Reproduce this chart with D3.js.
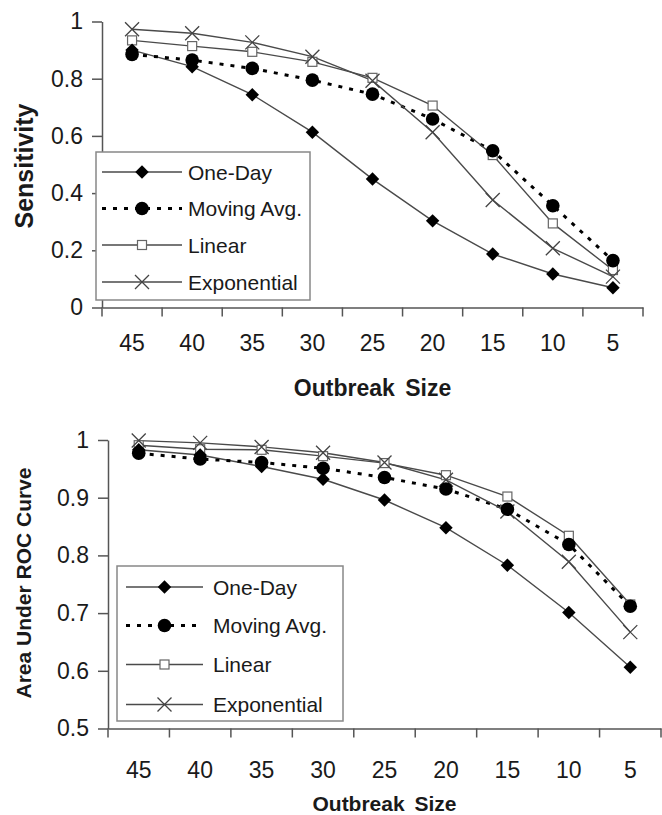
<!DOCTYPE html>
<html>
<head>
<meta charset="utf-8">
<script src="https://cdn.jsdelivr.net/npm/d3@7"></script>
<style>
  body { margin: 0; background: #fff; }
  svg { display: block; font-family: "Liberation Sans", Arial, sans-serif; }
</style>
</head>
<body>
<svg id="chart" width="662" height="815"></svg>
<script>
// outbreak sizes on the x axis
const sizes = [45, 40, 35, 30, 25, 20, 15, 10, 5];
const seriesNames = ["One-Day", "Moving Avg.", "Linear", "Exponential"];

// top panel: sensitivity
const sensOneDay = [0.900, 0.842, 0.744, 0.613, 0.449, 0.303, 0.187, 0.117, 0.069];
const sensMovingAvg = [0.885, 0.865, 0.836, 0.795, 0.746, 0.659, 0.548, 0.356, 0.164];
const sensLinear = [0.934, 0.914, 0.894, 0.859, 0.803, 0.706, 0.533, 0.294, 0.131];
const sensExponential = [0.973, 0.959, 0.927, 0.877, 0.793, 0.613, 0.376, 0.207, 0.108];
const sensTicks = [0, 0.2, 0.4, 0.6, 0.8, 1];

// bottom panel: area under ROC curve
const aucOneDay = [0.983, 0.974, 0.954, 0.932, 0.896, 0.848, 0.783, 0.701, 0.606];
const aucMovingAvg = [0.977, 0.967, 0.961, 0.951, 0.935, 0.915, 0.880, 0.819, 0.712];
const aucLinear = [0.991, 0.984, 0.983, 0.972, 0.960, 0.939, 0.902, 0.834, 0.715];
const aucExponential = [0.999, 0.995, 0.988, 0.978, 0.961, 0.931, 0.876, 0.789, 0.667];
const aucTicks = [0.5, 0.6, 0.7, 0.8, 0.9, 1];

const svg = d3.select("#chart");
const axisColor = "#555";
const lineColor = "#4a4a4a";
const textColor = "#1a1a1a";

function marker(g, type, cx, cy) {
  if (type === 0) {
    g.append("path")
      .attr("d", d3.symbol(d3.symbolDiamond2, 115)())
      .attr("transform", `translate(${cx},${cy})`)
      .attr("fill", "#000");
  } else if (type === 1) {
    g.append("circle").attr("cx", cx).attr("cy", cy).attr("r", 6.8).attr("fill", "#000");
  } else if (type === 2) {
    g.append("rect").attr("x", cx - 4.5).attr("y", cy - 4.5)
      .attr("width", 9).attr("height", 9)
      .attr("fill", "#fff").attr("stroke", "#666").attr("stroke-width", 1.2);
  } else {
    g.append("path")
      .attr("d", `M${cx - 7},${cy - 7}L${cx + 7},${cy + 7}M${cx - 7},${cy + 7}L${cx + 7},${cy - 7}`)
      .attr("stroke", "#444").attr("stroke-width", 1.3).attr("fill", "none");
  }
}

function lineStyle(sel, i) {
  if (i === 1) {
    sel.attr("stroke", "#000").attr("stroke-width", 3).attr("stroke-dasharray", "4,7");
  } else {
    sel.attr("stroke", lineColor).attr("stroke-width", 1.4);
  }
}

function drawPanel(opt) {
  const g = svg.append("g");

  const x = d3.scaleBand().domain(sizes).range(opt.xRange);
  const y = d3.scaleLinear().domain(opt.yDomain).range(opt.yRange);
  const cx = d => x(d) + x.bandwidth() / 2;

  // y axis
  const yAxis = g.append("g")
    .attr("transform", `translate(${opt.xRange[0]},0)`)
    .call(d3.axisLeft(y).tickValues(opt.ticks).tickSize(10).tickSizeOuter(0).tickPadding(9)
      .tickFormat(d => d3.format("")(+d.toFixed(1))));
  yAxis.selectAll("path, line").attr("stroke", axisColor).attr("stroke-width", 1.5);
  yAxis.selectAll("text").attr("fill", textColor).style("font-size", opt.tickFont + "px");

  // x axis with ticks on the band edges
  const xAxis = g.append("g")
    .attr("transform", `translate(0,${opt.yRange[0]})`)
    .call(d3.axisBottom(x).tickSize(0).tickSizeOuter(0).tickPadding(opt.xLabelPad));
  xAxis.select(".domain").attr("stroke", axisColor).attr("stroke-width", 1.5);
  xAxis.selectAll("text").attr("fill", textColor).style("font-size", opt.tickFont + "px");
  const edges = sizes.map(d => x(d)).concat([x.range()[1]]);
  xAxis.selectAll(".edge").data(edges).join("line")
    .attr("x1", d => d).attr("x2", d => d)
    .attr("y1", 0).attr("y2", 9)
    .attr("stroke", axisColor).attr("stroke-width", 1.5);

  // series lines then markers
  const line = d3.line().x((d, i) => cx(sizes[i])).y(d => y(d));
  opt.series.forEach((vals, i) => {
    g.append("path").datum(vals).attr("d", line).attr("fill", "none").call(lineStyle, i);
  });
  [2, 3, 1, 0].forEach(i => {
    opt.series[i].forEach((v, j) => marker(g, i, cx(sizes[j]), y(v)));
  });

  // axis titles
  g.append("text")
    .attr("transform", `translate(${opt.yTitlePos[0]},${opt.yTitlePos[1]}) rotate(-90)`)
    .attr("text-anchor", "middle")
    .attr("dominant-baseline", "central")
    .attr("font-weight", "bold")
    .attr("fill", textColor)
    .style("font-size", opt.yTitleFont + "px")
    .text(opt.yTitle);
  g.append("text")
    .attr("x", (opt.xRange[0] + opt.xRange[1]) / 2)
    .attr("y", opt.xTitleY)
    .attr("text-anchor", "middle")
    .attr("font-weight", "bold")
    .attr("fill", textColor)
    .style("font-size", opt.xTitleFont + "px")
    .style("word-spacing", "4px")
    .text("Outbreak Size");

  // legend
  const lg = opt.legend;
  g.append("rect")
    .attr("x", lg.x).attr("y", lg.y).attr("width", lg.w).attr("height", lg.h)
    .attr("fill", "#fff").attr("stroke", "#888").attr("stroke-width", 1.5);
  seriesNames.forEach((name, i) => {
    const ry = lg.rows[i];
    g.append("line")
      .attr("x1", lg.lineX[0]).attr("x2", lg.lineX[1])
      .attr("y1", ry).attr("y2", ry)
      .call(lineStyle, i);
    marker(g, i, (lg.lineX[0] + lg.lineX[1]) / 2, ry);
    g.append("text")
      .attr("x", lg.textX).attr("y", ry)
      .attr("dominant-baseline", "central")
      .attr("fill", textColor)
      .style("font-size", lg.font + "px")
      .text(name);
  });
}

drawPanel({
  xRange: [102, 643],
  yRange: [307.5, 21.5],
  yDomain: [0, 1],
  ticks: sensTicks,
  tickFont: 23,
  xLabelPad: 27,
  series: [sensOneDay, sensMovingAvg, sensLinear, sensExponential],
  yTitle: "Sensitivity",
  yTitlePos: [24, 166],
  yTitleFont: 25,
  xTitleY: 396,
  xTitleFont: 23,
  legend: { x: 96, y: 152, w: 214, h: 148, rows: [172, 208.5, 245, 282], lineX: [102, 182], textX: 188, font: 21 }
});

drawPanel({
  xRange: [108, 661],
  yRange: [728.5, 440],
  yDomain: [0.5, 1],
  ticks: aucTicks,
  tickFont: 23,
  xLabelPad: 33,
  series: [aucOneDay, aucMovingAvg, aucLinear, aucExponential],
  yTitle: "Area Under ROC Curve",
  yTitlePos: [23, 583],
  yTitleFont: 21,
  xTitleY: 811,
  xTitleFont: 21,
  legend: { x: 117, y: 566, w: 226, h: 155, rows: [587, 625.5, 664.5, 704.5], lineX: [126, 203], textX: 213, font: 21 }
});
</script>
</body>
</html>
